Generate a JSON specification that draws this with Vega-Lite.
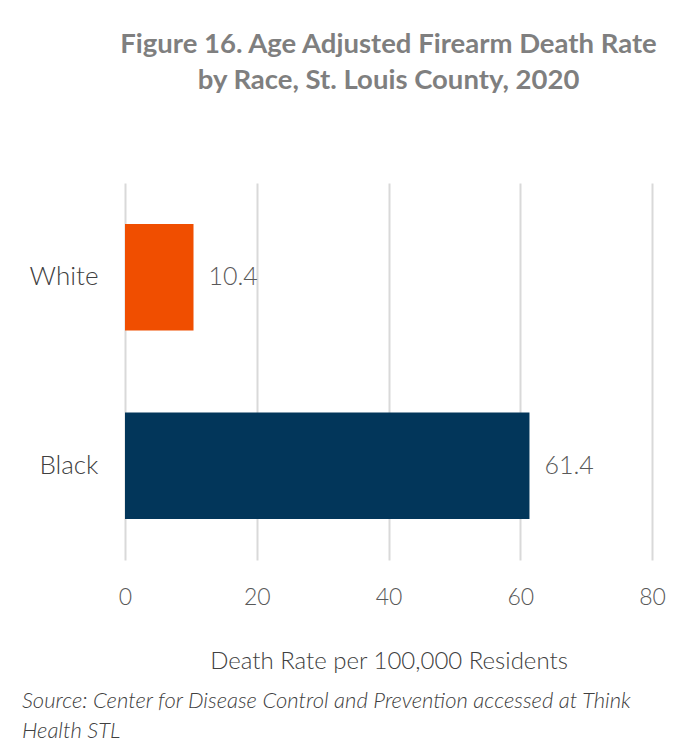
{
  "$schema": "https://vega.github.io/schema/vega-lite/v6.json",
  "autosize": {"type": "pad"},
  "padding": {"left": 22, "top": 30, "right": 28, "bottom": 10},
  "background": "white",
  "title": {
    "text": ["Figure 16. Age Adjusted Firearm Death Rate", "by Race, St. Louis County, 2020"],
    "anchor": "middle",
    "frame": "group",
    "orient": "top",
    "font": "Lato",
    "fontSize": 27.5,
    "fontWeight": "bold",
    "color": "#7f7f7f",
    "lineHeight": 36,
    "offset": 89
  },
  "data": {
    "values": [
      {"race": "White", "rate": 10.4},
      {"race": "Black", "rate": 61.4}
    ]
  },
  "vconcat": [
    {
      "width": 527,
      "height": 377,
      "title": {
        "text": ["Source: Center for Disease Control and Prevention accessed at Think", "Health STL"],
        "orient": "bottom",
        "anchor": "start",
        "frame": "group",
        "dx": -103,
        "offset": 18,
        "font": "Lato",
        "fontSize": 22,
        "fontWeight": 300,
        "fontStyle": "italic",
        "color": "#404040",
        "lineHeight": 30
      },
      "layer": [
        {
          "mark": {"type": "bar"},
          "encoding": {
            "y": {
              "field": "race",
              "type": "nominal",
              "sort": ["White", "Black"],
              "scale": {"paddingInner": 0.434, "paddingOuter": 0.217},
              "axis": {
                "title": null,
                "ticks": false,
                "domain": false,
                "labelPadding": 27,
                "labelFont": "Lato",
                "labelFontWeight": 300,
                "labelFontSize": 26,
                "labelColor": "#404040"
              }
            },
            "x": {
              "field": "rate",
              "type": "quantitative",
              "scale": {"domain": [0, 80]},
              "axis": {
                "values": [0, 20, 40, 60, 80],
                "title": "Death Rate per 100,000 Residents",
                "titleFont": "Lato",
                "titleFontWeight": 300,
                "titleFontSize": 24,
                "titleColor": "#404040",
                "titlePadding": 40,
                "ticks": false,
                "domain": false,
                "grid": true,
                "gridColor": "#d9d9d9",
                "gridWidth": 2,
                "labelFlush": false,
                "labelPadding": 26,
                "labelFont": "Lato",
                "labelFontWeight": 300,
                "labelFontSize": 23,
                "labelColor": "#595959"
              }
            },
            "color": {
              "field": "race",
              "type": "nominal",
              "scale": {"domain": ["White", "Black"], "range": ["#f04e00", "#02365a"]},
              "legend": null
            }
          }
        },
        {
          "mark": {"type": "text", "align": "left", "dx": 15, "font": "Lato", "fontWeight": 300, "fontSize": 25, "color": "#595959"},
          "encoding": {
            "y": {"field": "race", "type": "nominal", "sort": ["White", "Black"]},
            "x": {"field": "rate", "type": "quantitative"},
            "text": {"field": "rate", "type": "quantitative", "format": ".1f"}
          }
        }
      ]
    }
  ],
  "config": {
    "view": {"stroke": null}
  }
}
